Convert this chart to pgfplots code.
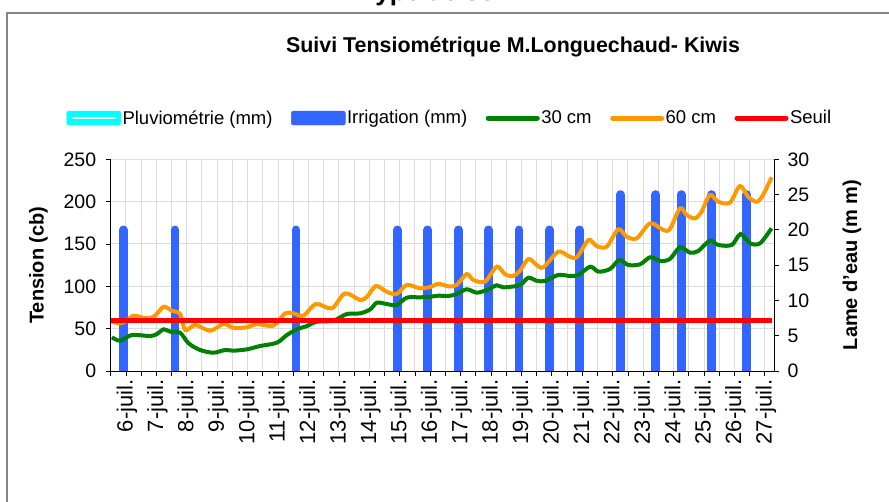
\documentclass[border=0pt]{standalone}
\usepackage{fontspec}
\setmainfont{Liberation Sans}
\usepackage{pgfplots}
\pgfplotsset{compat=1.18}
\definecolor{irr}{RGB}{51,102,255}
\definecolor{c30}{RGB}{0,128,0}
\definecolor{c60}{RGB}{255,153,0}
\definecolor{seuil}{RGB}{255,0,0}
\definecolor{pluv}{RGB}{0,255,255}
\definecolor{gridc}{RGB}{219,219,219}
\definecolor{framec}{RGB}{134,134,134}
\newcommand{\tickfont}{\fontsize{19.5}{22}\selectfont}
\newcommand{\xtickfont}{\fontsize{22}{24}\selectfont}
\newcommand{\labfont}{\bfseries\fontsize{20}{24}\selectfont}
\pgfplotsset{
  base/.style={width=663.3pt, height=211.7pt, scale only axis,
    at={(110.7pt,130pt)}, anchor=south west, xmin=-0.5, xmax=21.3,
    /pgf/number format/assume math mode=true,
    tick align=outside, major tick length=5pt, minor tick length=5pt,
    tick style={black, line width=0.8pt},
    axis line style={black, line width=1pt, -}},
}
\begin{document}
\begin{tikzpicture}
\useasboundingbox (0pt,0pt) rectangle (889pt,501pt);
\draw[framec, line width=1.3pt] (7pt,-20pt) rectangle (900pt,488pt);
\node[anchor=base west, font=\bfseries\fontsize{26}{30}\selectfont] at (358pt,500pt) {Type de sol};
\node[font=\bfseries\fontsize{21.4}{25}\selectfont] at (513pt,454pt) {Suivi Tensiométrique M.Longuechaud- Kiwis};

% grid, left axis, x axis
\begin{axis}[base, ymin=0, ymax=250,
  axis x line*=bottom, axis y line*=left,
  ytick={0,50,...,250},
  xtick={0,...,21},
  xticklabels={6-juil.,7-juil.,8-juil.,9-juil.,10-juil.,11-juil.,12-juil.,13-juil.,14-juil.,15-juil.,16-juil.,17-juil.,18-juil.,19-juil.,20-juil.,21-juil.,22-juil.,23-juil.,24-juil.,25-juil.,26-juil.,27-juil.},
  minor xtick={-0.5,0.5,...,20.5},
  xmajorgrids, xminorgrids, ymajorgrids,
  major grid style={draw=gridc, line width=1pt},
  minor grid style={draw=gridc, line width=1pt},
  xticklabel style={rotate=90, anchor=east, font=\xtickfont, yshift=-1pt},
  yticklabel style={font=\tickfont, xshift=-6pt},
  ylabel={Tension (cb)},
  ylabel style={font=\labfont, at={(axis description cs:-0.109,0.5)}, anchor=center},
]
\addplot[draw=none] coordinates {(0,0)};
\end{axis}

% irrigation bars, right axis
\begin{axis}[base, ymin=0, ymax=30,
  axis y line*=right, axis x line=none,
  ytick={0,5,...,30},
  yticklabel style={font=\tickfont, xshift=5pt},
  ylabel={Lame d'eau (m m)},
  ylabel style={font=\labfont, at={(axis description cs:1.1176,0.5)}, anchor=center},
]
\addplot[ycomb, draw=irr, line width=8.7pt, line cap=round, mark=none] coordinates {
(-0.08,20) (1.61,20) (5.59,20) (8.92,20) (9.92,20) (10.93,20) (11.92,20) (12.92,20) (13.92,20) (14.91,20)
(16.25,25) (17.41,25) (18.25,25) (19.25,25) (20.40,25)};
\end{axis}

% tension curves
\begin{axis}[base, ymin=0, ymax=250, hide axis,
  legend columns=5,
  legend style={draw=none, fill=none, at={(0.511,1.195)}, anchor=center,
    font=\fontsize{18.5}{22}\selectfont,
    nodes={inner xsep=1.5pt, inner ysep=2pt},
    /tikz/every even column/.append style={column sep=17pt}},
  legend image code/.code={\draw[#1, line width=5pt, line cap=round] (2.5pt,0pt) -- (51.5pt,0pt);},
]
\addlegendimage{legend image code/.code={\fill[pluv, rounded corners=2pt] (0pt,-7pt) rectangle (54pt,7pt); \draw[white, line width=2.2pt, line cap=round] (6pt,0pt) -- (48pt,0pt);}}
\addlegendentry{Pluviométrie (mm)}
\addlegendimage{legend image code/.code={\fill[irr, rounded corners=2pt] (0pt,-7pt) rectangle (54pt,7pt);}}
\addlegendentry{Irrigation (mm)}
\addplot[c30, line width=4pt, smooth, mark=none] coordinates {
(-0.46,39.8) (-0.19,35.8) (0.20,42.5) (0.80,41.3) (1.02,43.7) (1.24,49.2) (1.46,46.4) (1.78,45.2)
(2.06,32.7) (2.44,24.8) (2.88,21.6) (3.26,24.8) (3.53,24.0) (3.98,25.6) (4.41,29.5) (4.96,33.4)
(5.29,42.5) (5.62,49.2) (5.95,53.1) (6.27,58.2) (6.82,59.4) (7.26,67.3) (7.70,68.1) (8.03,72.8)
(8.25,80.7) (8.57,79.1) (8.90,77.9) (9.23,86.6) (9.67,87.0) (10.00,87.7) (10.27,88.9) (10.60,88.6)
(10.87,90.9) (11.20,96.5) (11.53,92.5) (11.86,95.7) (12.19,101.2) (12.40,98.8) (12.85,100.4)
(13.01,102.7) (13.23,110.2) (13.50,106.6) (13.77,106.3) (14.21,113.4) (14.60,112.2) (14.87,113.4)
(15.26,123.2) (15.53,117.3) (15.91,120.5) (16.22,131.1) (16.51,125.2) (16.90,126.0) (17.23,134.3)
(17.56,129.9) (17.88,132.3) (18.21,146.1) (18.54,139.7) (18.81,141.7) (19.19,153.9) (19.47,148.8)
(19.91,148.8) (20.20,161.8) (20.51,150.8) (20.84,150.8) (21.22,168.5)};
\addlegendentry{30 cm}
\addplot[c60, line width=4pt, smooth, mark=none] coordinates {
(-0.46,58.2) (-0.19,56.3) (0.03,59.4) (0.25,65.3) (0.69,62.2) (0.96,65.3) (1.24,75.9) (1.51,71.2)
(1.78,67.3) (1.95,48.4) (2.28,54.3) (2.77,47.6) (3.21,55.5) (3.53,51.1) (3.98,51.6) (4.30,55.5)
(4.85,53.5) (5.23,68.1) (5.51,68.1) (5.83,65.3) (6.25,79.1) (6.77,74.0) (7.20,91.7) (7.70,83.8)
(7.92,87.7) (8.22,100.4) (8.57,93.6) (8.90,90.9) (9.23,101.6) (9.67,97.7) (10.00,99.2) (10.27,103.0)
(10.60,100.0) (10.87,101.6) (11.20,114.5) (11.42,107.5) (11.80,105.5) (12.19,123.2) (12.46,114.2)
(12.73,112.2) (12.95,118.4) (13.23,132.3) (13.50,125.2) (13.72,122.5) (14.21,140.9) (14.54,135.8)
(14.82,134.3) (15.20,154.7) (15.47,147.6) (15.80,146.8) (16.18,167.3) (16.46,158.6) (16.79,156.7)
(17.23,174.4) (17.66,166.5) (17.88,167.7) (18.21,192.1) (18.43,184.2) (18.70,180.3) (18.92,188.1)
(19.19,207.8) (19.47,199.9) (19.85,198.8) (20.18,218.5) (20.45,205.8) (20.73,199.9) (20.94,207.8)
(21.22,228.7)};
\addlegendentry{60 cm}
\addplot[seuil, line width=5pt, mark=none] coordinates {(-0.5,60) (21.22,60)};
\addlegendentry{Seuil}
\end{axis}
\end{tikzpicture}
\end{document}
